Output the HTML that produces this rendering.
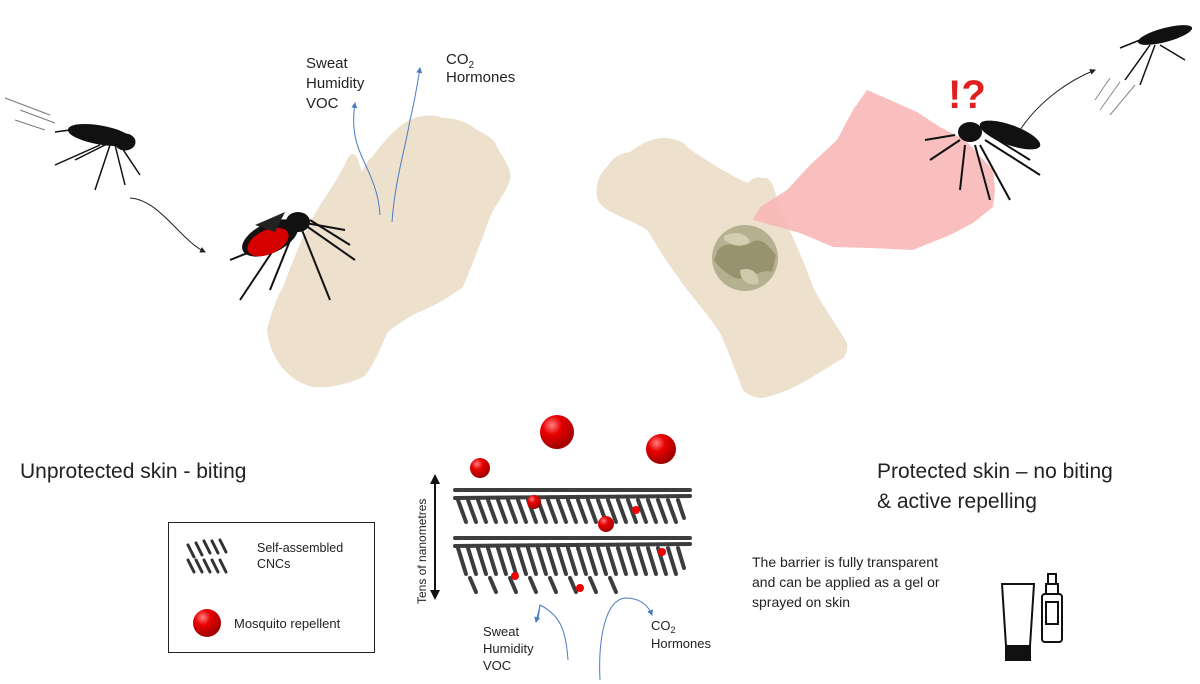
<!DOCTYPE html>
<html><head><meta charset="utf-8">
<style>
html,body{margin:0;padding:0;background:#fff;}
body{width:1200px;height:684px;overflow:hidden;font-family:"Liberation Sans",sans-serif;}
svg{display:block}
</style></head><body>
<svg width="1200" height="684" viewBox="0 0 1200 684" xmlns="http://www.w3.org/2000/svg" font-family="Liberation Sans, sans-serif">
<defs>
<radialGradient id="rb" cx="0.35" cy="0.3" r="0.7"><stop offset="0" stop-color="#ff8080"/><stop offset="0.4" stop-color="#e80000"/><stop offset="1" stop-color="#a00000"/></radialGradient>
<marker id="ah" markerWidth="6" markerHeight="6" refX="5" refY="3" orient="auto"><path d="M0,0 L6,3 L0,6 z" fill="#222"/></marker>
<marker id="ab" markerWidth="6" markerHeight="6" refX="5" refY="3" orient="auto"><path d="M0,0 L6,3 L0,6 z" fill="#4a7cc0"/></marker>
</defs>

<!-- Left hand -->
<path d="M267,330 C272,310 278,295 283,287 C295,255 305,230 317,210 C330,190 340,175 347,160 C350,152 356,152 358,160 L362,172 C365,165 368,160 372,157 C385,140 400,122 417,117 C430,114 438,116 443,118 C458,118 470,124 477,130 C488,135 495,140 497,147 C505,160 512,170 510,180 C505,195 495,205 490,217 C480,245 470,270 463,287 C445,300 430,308 417,313 C400,322 390,330 387,333 C378,355 370,372 363,377 C345,385 330,388 313,387 C290,382 270,360 267,330 Z" fill="#ede1ce"/>

<!-- Right hand -->
<path d="M597,197 C595,185 600,172 607,167 C612,158 620,153 630,152 C640,144 652,138 663,138 C675,138 684,142 687,147 C705,160 735,178 748,183 C752,178 758,176 762,178 C770,176 774,185 777,200 C785,220 792,235 797,247 C805,265 810,278 813,287 C825,310 840,330 847,343 C848,352 845,358 840,360 C815,375 795,390 767,397 C758,400 748,395 743,390 C735,370 728,350 720,333 C705,310 690,295 680,280 C665,260 655,242 647,230 C635,222 622,218 613,213 C603,208 598,203 597,197 Z" fill="#ede1ce"/>

<!-- pink blob -->
<path d="M867,90 L890,100 L917,112 L940,127 L965,140 L993,170 L995,190 L993,207 L973,223 L950,235 L913,250 L870,248 L833,247 L800,233 L753,220 L760,207 L787,190 L810,165 L837,140 L853,110 Z" fill="#f8b4b4" opacity="0.85"/>
<!-- camo circle -->
<circle cx="745" cy="258" r="33" fill="#b5b190"/>
<path d="M718,250 C728,238 742,250 752,242 C762,236 770,248 776,255 L772,272 C760,268 748,282 735,278 C725,273 718,266 714,260 Z" fill="#98926f"/>
<path d="M724,236 C736,230 748,234 750,242 C742,248 732,246 724,240 Z" fill="#d4cdb2"/>
<path d="M740,270 C752,266 760,274 758,284 C748,286 740,280 740,270 Z" fill="#d0c9ab"/>

<!-- Mosquito left top -->
<g fill="#111" stroke="#111">
<ellipse cx="100" cy="135" rx="32" ry="9" transform="rotate(10 100 135)"/>
<ellipse cx="125" cy="142" rx="10" ry="8"/>
<line x1="70" y1="130" x2="55" y2="132" stroke-width="1.5"/>
<g stroke-width="1.5" fill="none"><path d="M110,145 L95,190"/><path d="M115,145 L125,185"/><path d="M105,145 L75,160"/><path d="M120,145 L140,175"/><path d="M100,145 L55,165"/></g>
</g>
<g stroke="#777" stroke-width="1"><line x1="5" y1="98" x2="50" y2="115"/><line x1="20" y1="110" x2="55" y2="123"/><line x1="15" y1="120" x2="45" y2="130"/></g>
<path d="M130,198 C160,200 180,240 205,252" fill="none" stroke="#222" stroke-width="1" marker-end="url(#ah)"/>

<!-- Mosquito on left hand -->
<g stroke="#111" fill="none" stroke-width="2">
<path d="M290,225 L240,300"/><path d="M295,228 L270,290"/><path d="M300,225 L330,300"/><path d="M305,225 L355,260"/><path d="M310,220 L350,245"/><path d="M280,240 L230,260"/><path d="M300,222 L345,230"/>
</g>
<ellipse cx="270" cy="238" rx="30" ry="15" fill="#111" transform="rotate(-25 270 238)"/>
<ellipse cx="268" cy="242" rx="22" ry="12" fill="#d50000" transform="rotate(-25 268 242)"/>
<ellipse cx="298" cy="222" rx="12" ry="10" fill="#111"/>
<path d="M255,225 L285,212 L275,232 Z" fill="#222"/>

<!-- Mosquito on right -->
<g stroke="#111" fill="none" stroke-width="2">
<path d="M960,140 L930,160"/><path d="M965,145 L960,190"/><path d="M975,145 L990,200"/><path d="M985,140 L1040,175"/><path d="M990,135 L1030,160"/><path d="M955,135 L925,140"/><path d="M980,145 L1010,200"/>
</g>
<ellipse cx="1010" cy="135" rx="32" ry="10" fill="#111" transform="rotate(20 1010 135)"/>
<ellipse cx="970" cy="132" rx="12" ry="10" fill="#111"/>
<text x="948" y="108" font-size="40" font-weight="bold" fill="#e02020" font-family="Liberation Sans, sans-serif">!?</text>
<path d="M1020,130 C1040,100 1070,80 1095,70" fill="none" stroke="#222" stroke-width="1" marker-end="url(#ah)"/>
<!-- Mosquito top right -->
<g stroke="#111" fill="none" stroke-width="1.5"><path d="M1150,45 L1125,80"/><path d="M1155,45 L1140,85"/><path d="M1160,45 L1185,60"/><path d="M1140,40 L1120,48"/></g>
<ellipse cx="1165" cy="35" rx="28" ry="7" fill="#111" transform="rotate(-15 1165 35)"/>
<g stroke="#888" stroke-width="1"><line x1="1100" y1="110" x2="1120" y2="82"/><line x1="1110" y1="115" x2="1135" y2="85"/><line x1="1095" y1="100" x2="1110" y2="78"/></g>

<!-- Sweat arrows top -->
<path d="M380,215 C378,180 360,160 356,140 C352,125 354,110 355,103" fill="none" stroke="#4a7cc0" stroke-width="1" marker-end="url(#ab)"/>
<path d="M392,222 C395,180 405,150 410,120 C415,100 418,80 420,68" fill="none" stroke="#4a7cc0" stroke-width="1" marker-end="url(#ab)"/>
<g font-size="15" fill="#222"><text x="306" y="68">Sweat</text><text x="306" y="88">Humidity</text><text x="306" y="108">VOC</text>
<text x="446" y="64">CO<tspan font-size="10" dy="4">2</tspan></text><text x="446" y="82">Hormones</text></g>

<!-- captions -->
<text x="20" y="478" font-size="21" fill="#222">Unprotected skin - biting</text>
<text x="877" y="478" font-size="21" fill="#222">Protected skin – no biting</text>
<text x="877" y="508" font-size="21" fill="#222">&amp; active repelling</text>

<!-- legend -->
<rect x="168.5" y="522.5" width="206" height="130" fill="none" stroke="#222" stroke-width="1"/>
<g stroke="#333" stroke-width="3" stroke-linecap="round">
<path d="M188,545 l6,12 M196,543 l6,12 M204,541 l6,12 M212,541 l6,12 M220,540 l6,12"/>
<path d="M188,560 l6,12 M196,560 l6,12 M204,560 l6,12 M212,560 l6,12 M220,560 l6,12"/>
</g>
<text x="257" y="552" font-size="12.5" fill="#222">Self-assembled</text>
<text x="257" y="568" font-size="12.5" fill="#222">CNCs</text>
<circle cx="207" cy="623" r="14" fill="url(#rb)"/>
<text x="234" y="628" font-size="13" fill="#222">Mosquito repellent</text>

<!-- nanometer arrow -->
<line x1="435" y1="480" x2="435" y2="594" stroke="#111" stroke-width="2"/>
<path d="M430,484 L435,474 L440,484 Z M430,590 L435,600 L440,590 Z" fill="#111"/>
<text transform="translate(426,604) rotate(-90)" font-size="12" fill="#222">Tens of nanometres</text>

<!-- CNC stack -->
<g stroke="#333" stroke-width="4" stroke-linecap="round" opacity="0.95">
<path d="M455,490 L690,490 M455,498 L690,496"/>
<path d="M458,500 l8,22 M468,500 l8,22 M478,500 l8,22 M488,500 l8,22 M498,500 l8,22 M508,500 l8,22 M518,500 l8,22 M528,500 l8,22 M538,500 l8,22 M548,500 l8,22 M558,500 l8,22 M568,500 l8,22 M578,500 l8,22 M588,500 l8,22 M598,500 l8,22 M608,500 l8,22 M618,500 l8,22 M628,500 l8,22 M638,500 l8,22 M648,500 l8,22 M658,500 l8,22 M668,500 l8,22 M678,500 l6,18"/>
<path d="M455,538 L690,538 M455,546 L690,544"/>
<path d="M458,548 l8,26 M468,548 l8,26 M478,548 l8,26 M488,548 l8,26 M498,548 l8,26 M508,548 l8,26 M518,548 l8,26 M528,548 l8,26 M538,548 l8,26 M548,548 l8,26 M558,548 l8,26 M568,548 l8,26 M578,548 l8,26 M588,548 l8,26 M598,548 l8,26 M608,548 l8,26 M618,548 l8,26 M628,548 l8,26 M638,548 l8,26 M648,548 l8,26 M658,548 l8,26 M668,548 l8,26 M678,548 l6,20"/>
<path d="M470,578 l6,14 M490,578 l6,14 M510,578 l6,14 M530,578 l6,14 M550,578 l6,14 M570,578 l6,14 M590,578 l6,14 M610,578 l6,14"/>
</g>
<circle cx="534" cy="502" r="7" fill="url(#rb)"/>
<circle cx="606" cy="524" r="8" fill="url(#rb)"/>
<circle cx="636" cy="510" r="4" fill="#e00"/><circle cx="662" cy="552" r="4" fill="#e00"/><circle cx="515" cy="576" r="4" fill="#e00"/><circle cx="580" cy="588" r="4" fill="#e00"/>
<circle cx="557" cy="432" r="17" fill="url(#rb)"/>
<circle cx="661" cy="449" r="15" fill="url(#rb)"/>
<circle cx="480" cy="468" r="10" fill="url(#rb)"/>

<!-- bottom arrows -->
<path d="M568,660 C566,630 560,615 540,605 L538,620" fill="none" stroke="#4a7cc0" stroke-width="1"/>
<path d="M540,606 L536,622" fill="none" stroke="#4a7cc0" stroke-width="1" marker-end="url(#ab)"/>
<path d="M600,680 C598,640 605,600 625,598 C640,598 648,605 652,615" fill="none" stroke="#4a7cc0" stroke-width="1" marker-end="url(#ab)"/>
<g font-size="13" fill="#222"><text x="483" y="636">Sweat</text><text x="483" y="653">Humidity</text><text x="483" y="670">VOC</text>
<text x="651" y="630">CO<tspan font-size="9" dy="3">2</tspan></text><text x="651" y="648">Hormones</text></g>

<!-- barrier text -->
<g font-size="14" fill="#222"><text x="752" y="567">The barrier is fully transparent</text><text x="752" y="587">and can be applied as a gel or</text><text x="752" y="607">sprayed on skin</text></g>
<!-- tube and spray -->
<g fill="none" stroke="#111" stroke-width="2">
<path d="M1002,584 L1034,584 L1030,646 L1006,646 Z"/>
<rect x="1006" y="648" width="24" height="12" fill="#111"/>
<rect x="1042" y="594" width="20" height="48" rx="3"/>
<rect x="1046" y="584" width="12" height="10"/>
<rect x="1048" y="574" width="8" height="10"/>
<rect x="1046" y="602" width="12" height="22"/>
</g>
</svg>
</body></html>
